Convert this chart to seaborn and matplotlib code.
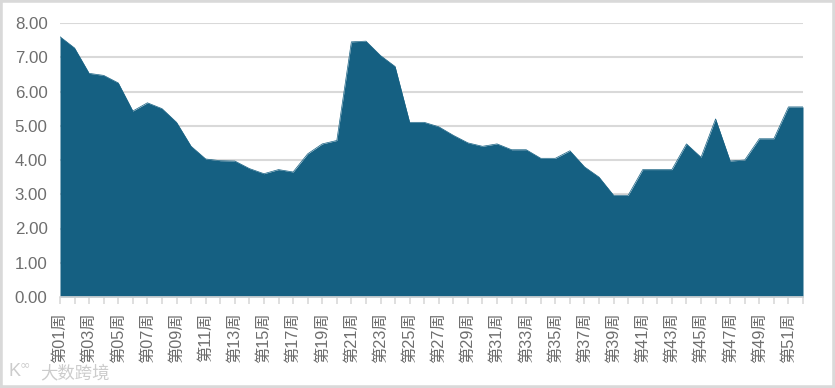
import matplotlib
matplotlib.use("Agg")
import matplotlib.pyplot as plt
import seaborn as sns
import pandas as pd
from matplotlib.patches import Rectangle

weeks = [f"第{i:02d}周" for i in range(1, 53)]
values = [7.60, 7.27, 6.53, 6.47, 6.25, 5.43, 5.67, 5.50, 5.10, 4.40,
          4.03, 3.98, 3.97, 3.75, 3.60, 3.72, 3.65, 4.18, 4.47, 4.57,
          7.45, 7.47, 7.05, 6.73, 5.10, 5.10, 4.97, 4.72, 4.50, 4.40,
          4.47, 4.30, 4.30, 4.05, 4.05, 4.27, 3.80, 3.50, 2.97, 2.97,
          3.72, 3.72, 3.72, 4.47, 4.08, 5.20, 3.97, 4.00, 4.62, 4.62,
          5.55, 5.55]
y_ticks = [0, 1, 2, 3, 4, 5, 6, 7, 8]

AREA = "#156082"
GRID = "#d9d9d9"
TEXT = "#6e6e6e"
W, H = 835, 388

sns.set_theme(style="white")
plt.rcParams["font.family"] = ["Liberation Sans", "Noto Sans CJK SC", "DejaVu Sans"]

fig = plt.figure(figsize=(W / 100, H / 100), dpi=100)
ax = fig.add_axes([60 / W, 1 - 297 / H, 743 / W, 274 / H])

df = pd.DataFrame({"x": range(len(weeks)), "y": values})
ax.set_axisbelow(True)
ax.yaxis.grid(True, color=GRID, lw=1.5)
ax.xaxis.grid(False)
ax.fill_between(df["x"], 0, df["y"], color=AREA, lw=0, zorder=2)
sns.lineplot(data=df, x="x", y="y", color=AREA, lw=0.5, ax=ax, zorder=3)

ax.set_xlim(0, len(weeks) - 1)
ax.set_ylim(0, 8)
ax.set_xlabel("")
ax.set_ylabel("")
ax.set_yticks(y_ticks)
ax.set_yticklabels([f"{v:.2f}" for v in y_ticks], fontsize=12.2, color=TEXT)
ax.set_xticks(range(len(weeks)))
ax.set_xticklabels([w if i % 2 == 0 else "" for i, w in enumerate(weeks)],
                   rotation=90, fontsize=11.7, color=TEXT)
ax.tick_params(axis="y", length=0, pad=9)
ax.tick_params(axis="x", length=5, width=1.2, color=GRID, pad=6, bottom=True)
for side in ["top", "left", "right"]:
    ax.spines[side].set_visible(False)
ax.spines["bottom"].set_color(GRID)
ax.spines["bottom"].set_linewidth(1.2)

fig.add_artist(Rectangle((0, 0), 1, 1, transform=fig.transFigure, fill=False,
                         ec=GRID, lw=4))
fig.text(40 / W, 1 - 373 / H, "大数跨境", fontsize=12.5, color="#cccccc",
         va="center", ha="left", family="Noto Sans CJK SC")
fig.text(9 / W, 1 - 372 / H, "K", fontsize=13, color="#cccccc", va="center", ha="left")
fig.text(20 / W, 1 - 365 / H, "∞", fontsize=9, color="#cccccc", va="center", ha="left",
         family="DejaVu Sans")

fig.savefig("out.png", dpi=100)
